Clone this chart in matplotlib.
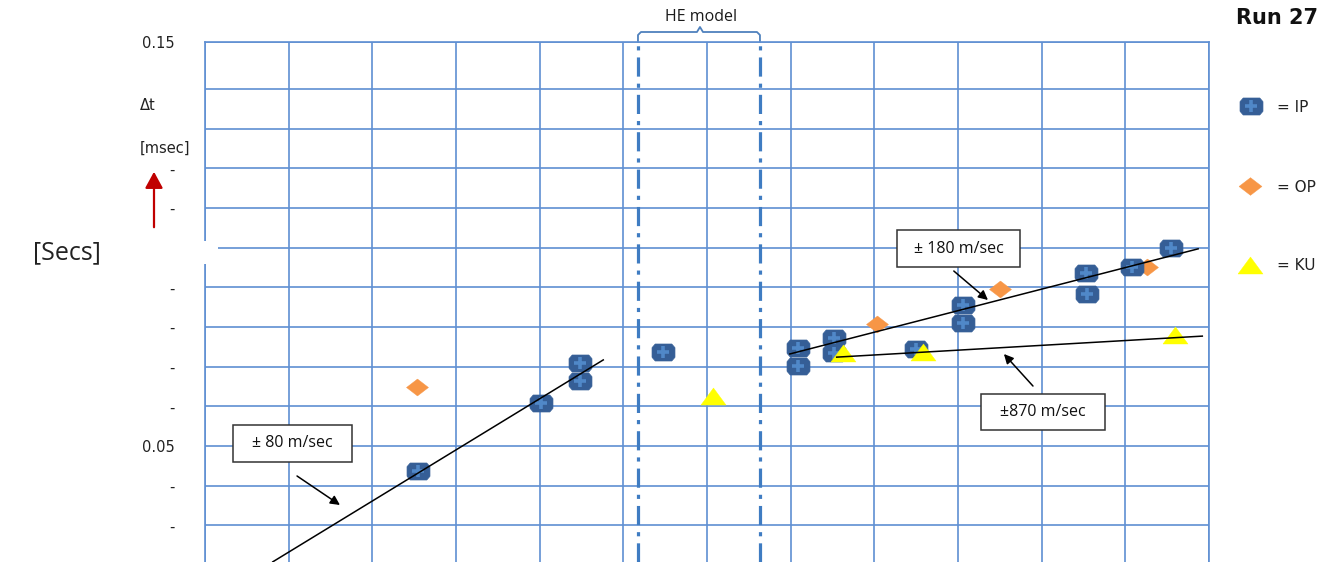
import matplotlib
matplotlib.use("Agg")
import matplotlib.pyplot as plt
from matplotlib.path import Path
from matplotlib.patches import Rectangle, FancyArrowPatch
from matplotlib.lines import Line2D

# ---- measured arrival-time differences (seconds) ----
ip_x = [2.55, 4.02, 4.48, 4.48, 5.47, 7.09, 7.09, 7.52, 7.52, 8.50, 9.06, 9.06, 10.53, 10.54, 11.08, 11.55]
ip_y = [0.0437, 0.0608, 0.0709, 0.0664, 0.0737, 0.0747, 0.0702, 0.0772, 0.0734, 0.0745,
        0.0855, 0.0810, 0.0936, 0.0883, 0.0951, 0.0999]

op_x = [2.53, 8.03, 9.50, 11.26]
op_y = [0.0649, 0.0808, 0.0896, 0.0951]

ku_x = [6.07, 7.63, 8.58, 11.59]
ku_y = [0.0626, 0.0734, 0.0737, 0.0780]

# fitted velocity lines (end points)
fit_80_x, fit_80_y = [0.81, 4.76], [0.0208, 0.0717]
fit_180_x, fit_180_y = [6.99, 11.87], [0.0732, 0.0997]
fit_870_x, fit_870_y = [7.55, 11.92], [0.0724, 0.0777]

# HE model region boundaries
he_model_x = [5.175, 6.633]

# axis range, grid and tick labels
y_min, y_max = 0.02076, 0.15184
x_grid = list(range(0, 13))
y_grid = [0.03, 0.04, 0.05, 0.06, 0.07, 0.08, 0.09, 0.10, 0.11, 0.12, 0.13, 0.14]
y_tick_labels = ['-', '-', '0.05', '-', '-', '-', '-', '', '-', '-', '', '', '0.15']

series_names = ['= IP', '= OP', '= KU']
fit_labels = ['\u00b1 80 m/sec', '\u00b1 180 m/sec', '\u00b1870 m/sec']

# ---- figure ----
W, H = 1325, 562
fig = plt.figure(figsize=(W / 100, H / 100), dpi=100)


def fx(px):
    return px / W


def fy(py):
    return 1 - py / H


GRID = '#5f8fd2'
ax = fig.add_axes([fx(205), 0, 1004 / W, 520 / H])
ax.set_xlim(0, 12)
ax.set_ylim(y_min, y_max)
ax.set_xticks(x_grid)
ax.set_xticklabels([])
ax.set_yticks(y_grid + [y_max])
ax.set_yticklabels(y_tick_labels)
ax.tick_params(axis='both', length=0)
ax.tick_params(axis='y', pad=22, labelsize=10.5, labelcolor='#222222')
ax.grid(True, color=GRID, lw=1.2)
for side in ['left', 'right', 'top']:
    ax.spines[side].set_color(GRID)
    ax.spines[side].set_linewidth(1.2)
ax.spines['bottom'].set_visible(False)
ax.set_axisbelow(True)

# marker shapes
ip_marker = Path([(-1, -0.42), (-1, 0.42), (-0.72, 0.74), (0.72, 0.74), (1, 0.42),
                  (1, -0.42), (0.72, -0.74), (-0.72, -0.74), (-1, -0.42)])
op_marker = Path([(-1, 0), (0, 0.77), (1, 0), (0, -0.77), (-1, 0)])
ku_marker = Path([(-1, -0.68), (1, -0.68), (0, 0.68), (-1, -0.68)])

IP_DARK, IP_LIGHT = '#355e96', '#5088c8'
OP_COL, KU_COL = '#f79646', '#ffff00'

ax.plot(op_x, op_y, ls='none', marker=op_marker, ms=15.8, mfc=OP_COL, mec=OP_COL, mew=0.3, zorder=3)
ax.plot(ip_x, ip_y, ls='none', marker=ip_marker, ms=16.5, mfc=IP_DARK, mec=IP_DARK,
        mew=0.5, zorder=4)
ax.plot(ip_x, ip_y, ls='none', marker='+', ms=8.5, mec=IP_LIGHT, mew=2.6, zorder=4.1)
ax.plot(ku_x, ku_y, ls='none', marker=ku_marker, ms=18, mfc=KU_COL, mec=KU_COL, mew=0.3, zorder=4.5)

for lx, ly in [(fit_80_x, fit_80_y), (fit_180_x, fit_180_y), (fit_870_x, fit_870_y)]:
    ax.plot(lx, ly, color='black', lw=1.1, zorder=6)

# HE model boundaries and brace
for hx in he_model_x:
    ax.axvline(hx, color='#3f7cc2', lw=2.3, ls=(0, (6, 2.2, 1.3, 2.2)), zorder=2)
brace_x = [5.175, 5.175, 5.211, 5.880, 5.916, 5.952, 6.597, 6.633, 6.633]
brace_y = [y_max, 0.15360, 0.15436, 0.15436, 0.15562, 0.15436, 0.15436, 0.15360, y_max]
ax.plot(brace_x, brace_y, color='#4f81bd', lw=1.3, clip_on=False, zorder=2)
ax.text(5.93, 0.15814, 'HE model', family='Open Sans', fontsize=11.5,
        ha='center', va='center', color='#1a1a1a')

# annotation boxes with arrows
boxes = [
    ((0.335, 0.0460, 1.422, 0.0093), fit_labels[0], (1.10, 0.04244), (1.613, 0.03513)),
    ((8.27, 0.09512, 1.47, 0.00933), fit_labels[1], (8.95, 0.09411), (9.358, 0.08680)),
    ((9.275, 0.05403, 1.482, 0.00908), fit_labels[2], (9.896, 0.06512), (9.549, 0.07319)),
]
for (bx, by, bw, bh), label, tail, head in boxes:
    ax.add_patch(Rectangle((bx, by), bw, bh, facecolor='white', edgecolor='#333333',
                           lw=1.1, zorder=7))
    ax.text(bx + bw / 2, by + bh / 2, label, family='Open Sans', fontsize=11.5,
            ha='center', va='center', color='#111111', zorder=8)
    ax.annotate('', xy=head, xytext=tail,
                arrowprops=dict(arrowstyle='-|>', color='black', lw=1.1,
                                mutation_scale=14, shrinkA=0, shrinkB=0), zorder=8)

# white break in the left axis
fig.add_artist(Rectangle((fx(198), fy(264)), (218 - 198) / W, (264 - 241) / H,
                         transform=fig.transFigure, facecolor='white', edgecolor='none',
                         zorder=10))

# axis labels
fig.text(fx(140), fy(105), '\u0394t', fontsize=10.5, ha='left', va='center', color='#222222')
fig.text(fx(140), fy(148), '[msec]', fontsize=10.5, ha='left', va='center', color='#222222')
fig.text(fx(33), fy(253), '[Secs]', family='Open Sans', fontsize=18, ha='left', va='center',
         color='#222222')
fig.add_artist(FancyArrowPatch(
    (fx(154), fy(230)), (fx(154), fy(169)), transform=fig.transFigure,
    arrowstyle='-|>,head_length=0.55,head_width=0.3', mutation_scale=18,
    color='#c00000', lw=1.6))

fig.text(fx(1318), fy(18), 'Run 27', fontsize=15, fontweight='bold', ha='right', va='center',
         color='#111111')

# legend
leg_y = [106, 186, 265]
fig.add_artist(Line2D([fx(1251)], [fy(leg_y[0])], transform=fig.transFigure, ls='none',
                      marker=ip_marker, ms=16.5, mfc=IP_DARK, mec=IP_DARK, mew=0.5))
fig.add_artist(Line2D([fx(1251)], [fy(leg_y[0])], transform=fig.transFigure, ls='none',
                      marker='+', ms=8.5, mec=IP_LIGHT, mew=2.6))
fig.add_artist(Line2D([fx(1250)], [fy(leg_y[1])], transform=fig.transFigure, ls='none',
                      marker=op_marker, ms=16.5, mfc=OP_COL, mec=OP_COL, mew=0.3))
fig.add_artist(Line2D([fx(1250)], [fy(leg_y[2])], transform=fig.transFigure, ls='none',
                      marker=ku_marker, ms=18, mfc=KU_COL, mec=KU_COL, mew=0.3))
for name, ly in zip(series_names, leg_y):
    fig.text(fx(1277), fy(ly + 1), name, fontsize=11, ha='left', va='center', color='#222222')

fig.savefig('out.png', dpi=100)
